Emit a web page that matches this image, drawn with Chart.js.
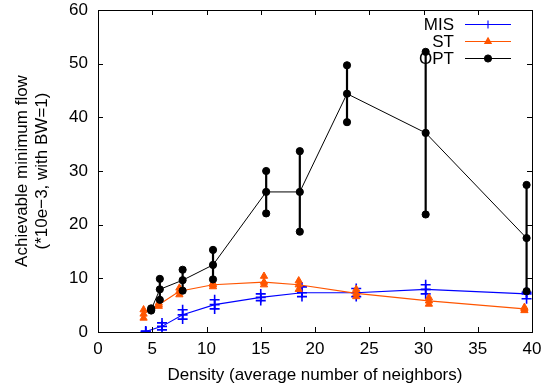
<!DOCTYPE html>
<html>
<head>
<meta charset="utf-8">
<script src="https://cdn.jsdelivr.net/npm/chart.js@4/dist/chart.umd.min.js"></script>
<style>
  html, body { margin: 0; padding: 0; background: #fff; }
  #wrap { width: 556px; height: 388px; }
</style>
</head>
<body>
<div id="wrap"><canvas id="c" width="556" height="388"></canvas></div>
<script>
// ---- data ----
const xTicks = [0, 5, 10, 15, 20, 25, 30, 35, 40];
const yTicks = [0, 10, 20, 30, 40, 50, 60];

const misX   = [4.4, 5.9, 7.8, 10.75, 15.0, 18.8, 23.8, 30.2, 39.5];
const misY   = [0.1, 1.05, 3.2, 5.1, 6.45, 7.3, 7.3, 7.95, 7.1];
const misMin = [0.0, 0.4, 2.4, 4.3, 5.85, 6.6, 6.6, 7.1, 6.2];
const misMax = [0.2, 1.7, 4.15, 6.0, 7.1, 8.4, 8.1, 8.8, 7.4];

const stX    = [4.2, 5.6, 7.5, 10.6, 15.3, 18.5, 23.8, 30.5, 39.3];
const stY    = [3.35, 5.1, 7.6, 8.8, 9.3, 8.8, 7.2, 5.8, 4.3];
const stMin  = [2.6, 4.8, 6.95, 8.45, 8.8, 7.95, 6.6, 5.2, 4.0];
const stMax  = [4.15, 5.4, 8.2, 9.1, 10.4, 9.55, 7.95, 6.4, 4.6];

const optX   = [4.9, 5.7, 7.8, 10.6, 15.5, 18.6, 22.95, 30.2, 39.5];
const optY   = [4.15, 7.95, 9.65, 12.5, 26.1, 26.1, 44.4, 37.1, 17.5];
const optMin = [4.0, 6.0, 7.7, 9.8, 22.1, 18.7, 39.1, 21.9, 7.6];
const optMax = [4.4, 9.9, 11.6, 15.3, 30.0, 33.7, 49.7, 52.2, 27.4];

const seriesNames = ['MIS', 'ST', 'OPT'];
const xTitle = 'Density (average number of neighbors)';
const yTitle = ['Achievable minimum flow', '(*10e\u22123, with BW=1)'];

// ---- styles ----
const FONT = 'Liberation Sans, Arial, Helvetica, sans-serif';
const C_MIS = '#0000ff', C_ST = '#ff5500', C_OPT = '#000000';

function pts(xs, ys) { return xs.map((x, i) => ({x: x, y: ys[i]})); }

const series = [
  {name: seriesNames[2], xs: optX, ys: optY, mn: optMin, mx: optMax, color: C_OPT, style: 'circle', r: 3.6, bw: 1, ew: 2.2, lw: 1},
  {name: seriesNames[1], xs: stX, ys: stY, mn: stMin, mx: stMax, color: C_ST, style: 'triangle', r: 4.2, bw: 1, ew: 1.5, lw: 1.2},
  {name: seriesNames[0], xs: misX, ys: misY, mn: misMin, mx: misMax, color: C_MIS, style: 'cross', r: 5, bw: 1.6, ew: 1.5, lw: 1.1}
];

const datasets = [];
series.forEach((s, si) => {
  datasets.push({
    label: s.name, data: pts(s.xs, s.ys), showLine: true,
    borderColor: s.color, backgroundColor: s.color, borderWidth: s.lw,
    pointStyle: s.style, pointRadius: s.r, pointBorderWidth: s.bw,
    pointBackgroundColor: s.color, pointBorderColor: s.color,
    order: si * 3, errInfo: s
  });
  [s.mn, s.mx].forEach((arr, k) => {
    datasets.push({
      label: s.name + (k ? ' max' : ' min'), data: pts(s.xs, arr), showLine: false,
      borderColor: s.color, backgroundColor: s.color,
      pointStyle: s.style, pointRadius: s.r, pointBorderWidth: s.bw,
      pointBackgroundColor: s.color, pointBorderColor: s.color,
      order: si * 3 + 1 + k
    });
  });
});

const framePlugin = {
  id: 'frame',
  beforeDatasetsDraw(chart) {
    const {ctx, scales: {x, y}} = chart;
    ctx.save();
    chart.data.datasets.forEach(ds => {
      const s = ds.errInfo;
      if (!s) return;
      ctx.strokeStyle = s.color;
      ctx.lineWidth = s.ew;
      s.xs.forEach((xv, i) => {
        const px = x.getPixelForValue(xv);
        ctx.beginPath();
        ctx.moveTo(px, y.getPixelForValue(s.mn[i]));
        ctx.lineTo(px, y.getPixelForValue(s.mx[i]));
        ctx.stroke();
      });
    });
    ctx.restore();
  },
  afterDraw(chart) {
    const {ctx, chartArea: a, scales: {x, y}} = chart;
    ctx.save();
    ctx.strokeStyle = '#000';
    ctx.lineWidth = 1;
    const tl = 5;
    ctx.beginPath();
    x.ticks.forEach(t => {
      const px = Math.round(x.getPixelForValue(t.value)) + 0.5;
      ctx.moveTo(px, a.bottom); ctx.lineTo(px, a.bottom - tl);
      ctx.moveTo(px, a.top); ctx.lineTo(px, a.top + tl);
    });
    y.ticks.forEach(t => {
      const py = Math.round(y.getPixelForValue(t.value)) + 0.5;
      ctx.moveTo(a.left, py); ctx.lineTo(a.left + tl, py);
      ctx.moveTo(a.right, py); ctx.lineTo(a.right - tl, py);
    });
    ctx.stroke();
    ctx.strokeRect(Math.round(a.left) + 0.5, Math.round(a.top) + 0.5,
                   Math.round(a.right - a.left), Math.round(a.bottom - a.top));
    const keyOrder = [series[2], series[1], series[0]];
    const rows = [24, 41, 58];
    ctx.font = '17px ' + FONT;
    ctx.textAlign = 'right';
    ctx.textBaseline = 'middle';
    keyOrder.forEach((s, i) => {
      const ry = rows[i];
      ctx.fillStyle = '#000';
      ctx.fillText(s.name, 454, ry + 1);
      ctx.strokeStyle = s.color;
      ctx.lineWidth = s.lw;
      ctx.beginPath(); ctx.moveTo(465, ry + 0.5); ctx.lineTo(511, ry + 0.5); ctx.stroke();
      ctx.fillStyle = s.color;
      Chart.helpers.drawPoint(ctx, {pointStyle: s.style, radius: s.style === 'cross' ? 4 : 3.6,
        borderWidth: s.bw, rotation: 0}, 488, ry + 0.5);
    });
    ctx.restore();
  }
};

const tickFont = {family: FONT, size: 17};

new Chart(document.getElementById('c'), {
  type: 'scatter',
  data: {datasets: datasets},
  options: {
    responsive: false,
    animation: false,
    devicePixelRatio: 1,
    layout: {padding: {left: 0, right: 24, top: 10, bottom: 0}},
    plugins: {legend: {display: false}, tooltip: {enabled: false}},
    scales: {
      x: {
        type: 'linear', min: 0, max: 40,
        afterBuildTicks(s) { s.ticks = xTicks.map(v => ({value: v})); },
        ticks: {font: tickFont, color: '#000', padding: 7, maxRotation: 0, autoSkip: false},
        grid: {display: false, drawTicks: false},
        border: {display: false},
        title: {display: true, text: xTitle, font: tickFont, color: '#000', padding: {top: 0, bottom: 2}},
        afterFit(s) { s.height = 56; s.paddingLeft = 0; s.paddingRight = 0; }
      },
      y: {
        type: 'linear', min: 0, max: 60,
        afterBuildTicks(s) { s.ticks = yTicks.map(v => ({value: v})); },
        ticks: {font: tickFont, color: '#000', padding: 10, autoSkip: false},
        grid: {display: false, drawTicks: false},
        border: {display: false},
        title: {display: true, text: yTitle, font: tickFont, color: '#000', padding: {top: 12, bottom: 0}},
        afterFit(s) { s.width = 98; s.paddingTop = 0; s.paddingBottom = 0; }
      }
    }
  },
  plugins: [framePlugin]
});
</script>
</body>
</html>
